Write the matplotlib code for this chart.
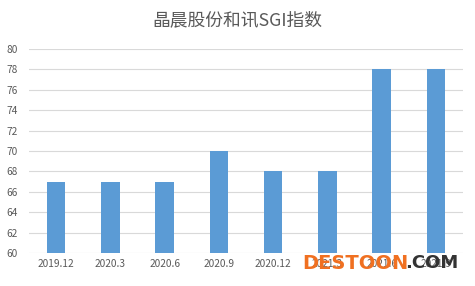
import matplotlib
matplotlib.use('Agg')
import matplotlib.pyplot as plt

plt.rcParams['font.family'] = ['Noto Sans CJK SC', 'DejaVu Sans']

periods = ['2019.12', '2020.3', '2020.6', '2020.9', '2020.12', '2021.3', '2021.6', '2021.9']
sgi = [67, 67, 67, 70, 68, 68, 78, 78]

fig = plt.figure(figsize=(4.75, 2.86), dpi=100)
ax = fig.add_axes([0.061, 0.1154, 0.914, 0.7133])

x = range(len(periods))
ax.bar(x, sgi, width=0.34, color='#5B9BD5', zorder=2)

ax.set_ylim(60, 80)
ax.set_yticks(range(60, 81, 2))
ax.set_xlim(-0.5, len(periods) - 0.5)
ax.set_xticks(list(x))
ax.set_xticklabels(periods)
ax.grid(axis='y', color='#D9D9D9', linewidth=0.8, zorder=0)
for s in ax.spines.values():
    s.set_visible(False)
ax.tick_params(length=0, labelsize=7.3, colors='#595959', pad=4)
ax.tick_params(axis='y', pad=8)

fig.text(0.5, 0.93, '晶晨股份和讯SGI指数', ha='center', va='center',
         fontsize=12.8, color='#595959')

# watermark
fig.text(0.637, 0.08, 'DESTOON', ha='left', va='center', fontsize=14,
         fontweight='bold', color='#F07021', family='DejaVu Sans')
fig.text(0.852, 0.08, '.COM', ha='left', va='center', fontsize=13,
         fontweight='bold', color='#333333', family='DejaVu Sans')

fig.savefig('out.png', dpi=100)
